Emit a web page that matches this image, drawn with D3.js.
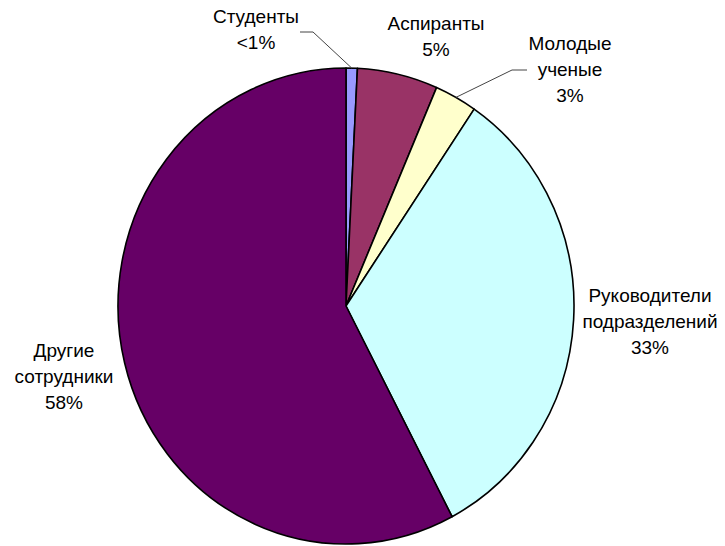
<!DOCTYPE html>
<html>
<head>
<meta charset="utf-8">
<script src="https://cdn.jsdelivr.net/npm/d3@7"></script>
<style>
  body { margin: 0; background: #fff; }
  text { font-family: "Liberation Sans", Arial, sans-serif; font-size: 19px; fill: #000; }
</style>
</head>
<body>
<svg id="chart" width="725" height="546"></svg>
<script>
(function(){
    // data (percent)
    var categories = ['Студенты', 'Аспиранты', 'Молодые ученые', 'Руководители подразделений', 'Другие сотрудники'];
    var values = [0.8, 5.7, 3.0, 32.8, 57.7];
    var labels = [['Студенты', '<1%'], ['Аспиранты', '5%'], ['Молодые', 'ученые', '3%'],
                  ['Руководители', 'подразделений', '33%'], ['Другие', 'сотрудники', '58%']];
    var colors = ['#9999ff', '#993366', '#ffffcc', '#ccffff', '#660066'];

    // layout
    var cx = 346, cy = 306, rx = 228, ry = 238;
    var labelPos = [[256, 23], [436, 30], [570, 50], [650, 302], [64, 357]]; // first baseline
    var lineH = 26;
    // leader lines: [label side point, elbow]
    var leaders = { 0: [[300, 32], [313, 32]], 2: [[527, 70], [512, 70]] };

    var svg = d3.select('#chart');

    var pie = d3.pie().sort(null).value(function(d){ return d; });
    var arcs = pie(values);
    var arc = d3.arc().innerRadius(0).outerRadius(rx);

    var g = svg.append('g')
        .attr('transform', 'translate(' + cx + ',' + cy + ') scale(1,' + (ry / rx) + ')');

    g.selectAll('path')
        .data(arcs)
        .enter().append('path')
        .attr('d', arc)
        .attr('fill', function(d, i){ return colors[i]; })
        .attr('stroke', '#000')
        .attr('stroke-width', 1.6)
        .attr('stroke-linejoin', 'round')
        .attr('vector-effect', 'non-scaling-stroke');

    // leader lines to slice edge at mid angle
    Object.keys(leaders).forEach(function(k){
        var d = arcs[k];
        var a = (d.startAngle + d.endAngle) / 2;
        var end = [cx + rx * Math.sin(a), cy - ry * Math.cos(a)];
        var pts = leaders[k].concat([end]);
        svg.append('path')
            .attr('d', d3.line()(pts))
            .attr('fill', 'none')
            .attr('stroke', '#444')
            .attr('stroke-width', 1);
    });

    labels.forEach(function(lines, i){
        var t = svg.append('text')
            .attr('text-anchor', 'middle');
        lines.forEach(function(s, j){
            t.append('tspan')
                .attr('x', labelPos[i][0])
                .attr('y', labelPos[i][1] + j * lineH)
                .text(s);
        });
    });
})();
</script>
</body>
</html>
